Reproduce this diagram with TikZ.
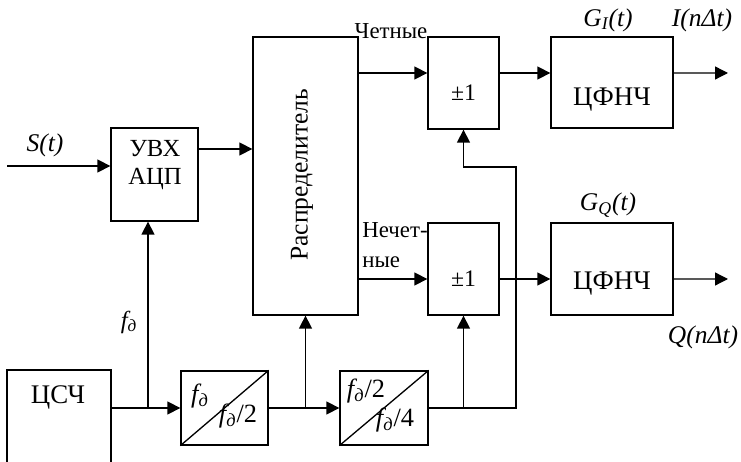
\documentclass[tikz,border=0pt]{standalone}
\usepackage{fontspec}
\setmainfont{Liberation Serif}
\usetikzlibrary{arrows.meta,positioning}

\begin{document}
\begin{tikzpicture}[
    x=0.02cm, y=-0.02cm,
    block/.style={rectangle, draw, line width=0.75pt, inner sep=0pt},
    txt/.style={inner sep=0pt, font=\fontsize{15.3}{17}\selectfont},
    lbl/.style={inner sep=0pt, font=\fontsize{13}{17}\selectfont},
    sig/.style={inner sep=0pt, font=\fontsize{14.5}{16}\selectfont\itshape},
    frac/.style={inner sep=0pt, font=\fontsize{15}{17}\selectfont},
    wire/.style={line width=0.75pt},
    arrow/.style={wire, -{Triangle[length=0.26cm, width=0.26cm]}}
]
\useasboundingbox (0,0) rectangle (741,462);

% Blocks
\node[block, minimum width=2.08cm, minimum height=2.2cm] (gen) at (59,425) {};
\node[block, minimum width=1.74cm, minimum height=1.86cm] (adc) at (154.5,174.5) {};
\node[block, minimum width=2.1cm, minimum height=5.56cm] (dist) at (305.5,176) {};
\node[block, minimum width=1.42cm, minimum height=1.84cm] (sgnI) at (463.5,83) {};
\node[block, minimum width=1.42cm, minimum height=1.84cm] (sgnQ) at (463.5,269) {};
\node[block, minimum width=2.44cm, minimum height=1.82cm] (lpfI) at (612,82.5) {};
\node[block, minimum width=2.44cm, minimum height=1.84cm] (lpfQ) at (612,269) {};
\node[block, minimum width=1.74cm, minimum height=1.48cm] (div1) at (224.5,408) {};
\node[block, minimum width=1.76cm, minimum height=1.48cm] (div2) at (384,408) {};
\draw[wire] (div1.south west) -- (div1.north east);
\draw[wire] (div2.south west) -- (div2.north east);

% Block texts
\node[txt] (genT) at (58,397) {ЦСЧ};
\node[txt, align=center, font=\fontsize{14}{16}\selectfont] (adcT) at (155,165) {УВХ\\АЦП};
\node[txt, rotate=90, font=\fontsize{14.5}{16}\selectfont] (distT) at (302,175) {Распределитель};
\node[txt, font=\fontsize{13.5}{15}\selectfont] (sgnIT) at (463.5,93) {±1};
\node[txt, font=\fontsize{13.5}{15}\selectfont] (sgnQT) at (463.5,279) {±1};
\node[txt] (lpfIT) at (612,100) {ЦФНЧ};
\node[txt] (lpfQT) at (612,284) {ЦФНЧ};
\node[frac] (div1a) at (200,396) {\itshape f\textsubscript{д}};
\node[frac] (div1b) at (238,416) {{\itshape f\textsubscript{д}}/2};
\node[frac] (div2a) at (366,391) {{\itshape f\textsubscript{д}}/2};
\node[frac] (div2b) at (395,420) {{\itshape f\textsubscript{д}}/4};

% Coordinates for free ends
\coordinate (sin) at (7,166);
\coordinate (j1) at (148,408);
\coordinate (c1) at (516,408);
\coordinate (c2) at (516,167);
\coordinate (outI) at (728,73);
\coordinate (outQ) at (728,279);
\coordinate (adcout) at ([yshift=0.51cm]adc.east);
\coordinate (evI) at ([yshift=0.2cm]sgnI.west);
\coordinate (oddQ) at ([yshift=-0.2cm]sgnQ.west);

% Connections
\draw[arrow] (sin) -- (sin -| adc.west);
\draw[arrow] (adcout) -- (adcout -| dist.west);
\draw[arrow] (div1.west -| gen.east) -- (div1.west);
\draw[arrow] (j1) -- (j1 |- adc.south);
\draw[arrow] (div1.east) -- (div2.west);
\draw[arrow] (div1.east -| dist.south) -- (dist.south);
\draw[arrow] (div2.east) -- (c1) -- (c2) -| (sgnI.south);
\draw[arrow] (div2.east -| sgnQ.south) -- (sgnQ.south);
\draw[arrow] (evI -| dist.east) -- (evI);
\draw[arrow] (evI -| sgnI.east) -- (evI -| lpfI.west);
\draw[arrow] (evI -| lpfI.east) -- (outI);
\draw[arrow] (oddQ -| dist.east) -- (oddQ);
\draw[arrow] (oddQ -| sgnQ.east) -- (oddQ -| lpfQ.west);
\draw[arrow] (oddQ -| lpfQ.east) -- (outQ);

% Signal labels
\node[sig] (sT) at (45,145) {S(t)};
\node[sig, font=\fontsize{14}{16}\selectfont\itshape] (fT) at (129,322) {f\textsubscript{д}};
\node[lbl] (evenT) at (391,31) {Четные};
\node[lbl, align=left, anchor=west] (oddT) at (362,245) {Нечет-\\ные};
\node[sig] (gIT) at (608,20) {G\textsubscript{I}(t)};
\node[sig] (iT) at (702,20) {I(nΔt)};
\node[sig] (gQT) at (608,205) {G\textsubscript{Q}(t)};
\node[sig] (qT) at (703,337) {Q(nΔt)};

\end{tikzpicture}
\end{document}
